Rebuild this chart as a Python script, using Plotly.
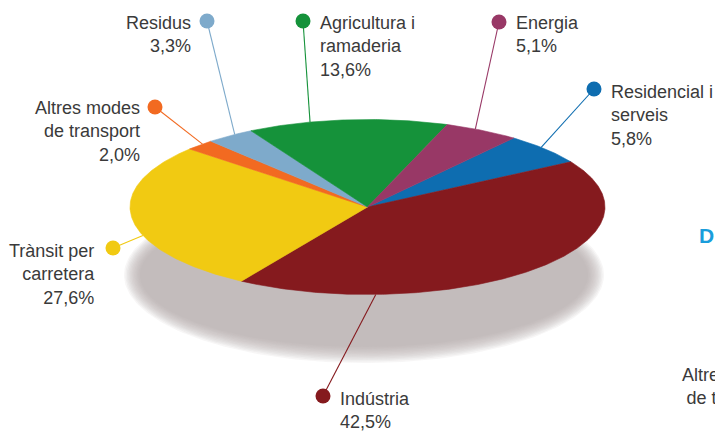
import numpy as np
import plotly.graph_objects as go

# ---- data ----
categories = ["Residencial i serveis", "Indústria", "Trànsit per carretera",
              "Altres modes de transport", "Residus", "Agricultura i ramaderia", "Energia"]
label_lines = ["Residencial i<br>serveis", "Indústria", "Trànsit per<br>carretera",
               "Altres modes<br>de transport", "Residus", "Agricultura i<br>ramaderia", "Energia"]
values = [5.8, 42.5, 27.6, 2.0, 3.3, 13.6, 5.1]
colors = ["#0e6db0", "#851a1e", "#f1ca12", "#f26a21", "#7eaacb", "#15923a", "#983866"]

# ---- layout / style ----
W, H = 715, 431
cx, cy, rx, ry = 367.5, 207.0, 237.5, 87.5       # pie ellipse (pixels)
start_deg = 52.0                                   # start angle, slices clockwise
sh_cx, sh_cy, sh_rx, sh_ry = 364.0, 275.0, 232.0, 80.0  # shadow ellipse
leader_deg = [43, 272, 199, 134, 124, 104, 63]     # where leader lines meet the rim
dot_xy = [(594, 89), (323, 396), (113, 248), (155, 107), (207, 21), (303, 21), (499, 22)]
text_x = [609, 338, 97, 142, 193, 318, 514]
text_side = ["left", "left", "right", "right", "right", "left", "left"]
text_y = [89, 396, 248, 105, 20, 20, 20]          # centre of first text line
FONT = "Liberation Sans, Arial, sans-serif"
TXT = "#3a3a3a"

def rim(t_deg, a=rx, b=ry, x0=cx, y0=cy):
    t = np.radians(t_deg)
    return x0 + a * np.cos(t), y0 - b * np.sin(t)

fig = go.Figure()

# blurred shadow: stacked translucent ellipses
tt = np.linspace(0, 360, 241)
for k in range(12):
    d = 8 - k * 1.45
    xs, ys = rim(tt, sh_rx + d, sh_ry + d, sh_cx, sh_cy)
    fig.add_trace(go.Scatter(x=xs, y=ys, mode="lines", fill="toself",
                             fillcolor="rgba(174,170,171,0.10)", line=dict(width=0),
                             hoverinfo="skip", showlegend=False))

# pie wedges on the ellipse
total = sum(values)
a = start_deg
for v, c, name in zip(values, colors, categories):
    span = 360.0 * v / total
    ts = np.linspace(a, a - span, max(8, int(span * 2)))
    xs, ys = rim(ts)
    fig.add_trace(go.Scatter(x=np.r_[cx, xs, cx], y=np.r_[cy, ys, cy], mode="lines",
                             fill="toself", fillcolor=c, line=dict(width=0.6, color=c),
                             name=name, hoverinfo="name", showlegend=False))
    a -= span

# leader lines, dots, labels
for i, v in enumerate(values):
    ex, ey = rim(leader_deg[i])
    dx, dy = dot_xy[i]
    fig.add_trace(go.Scatter(x=[dx, ex], y=[dy, ey], mode="lines",
                             line=dict(color=colors[i], width=1.1),
                             hoverinfo="skip", showlegend=False))
    fig.add_trace(go.Scatter(x=[dx], y=[dy], mode="markers",
                             marker=dict(size=15, color=colors[i], line=dict(width=0)),
                             hoverinfo="skip", showlegend=False))
    pct = f"{v:.1f}".replace(".", ",") + "%"
    fig.add_annotation(x=text_x[i], y=text_y[i] - 9, xref="x", yref="y",
                       text=label_lines[i] + "<br>" + pct, showarrow=False,
                       xanchor=text_side[i], yanchor="top", align=text_side[i],
                       font=dict(family=FONT, size=18, color=TXT))

# neighbouring content cut off at the right edge
fig.add_annotation(x=697, y=235, xref="x", yref="y", text="<b>D</b>", showarrow=False,
                   xanchor="left", yanchor="middle",
                   font=dict(family=FONT, size=21, color="#1a9ddb"))
fig.add_annotation(x=680, y=363, xref="x", yref="y", text="Altres modes<br>de transport",
                   showarrow=False, xanchor="left", yanchor="top", align="center",
                   font=dict(family=FONT, size=18, color=TXT))

fig.update_layout(width=W, height=H, autosize=False,
                  margin=dict(l=0, r=0, t=0, b=0),
                  paper_bgcolor="white", plot_bgcolor="white",
                  xaxis=dict(range=[0, W], visible=False, fixedrange=True),
                  yaxis=dict(range=[H, 0], visible=False, fixedrange=True))

fig.write_html("out.html", config={"displayModeBar": False},
               post_script="document.body.style.margin='0';"
                           "document.body.style.overflow='hidden';")
